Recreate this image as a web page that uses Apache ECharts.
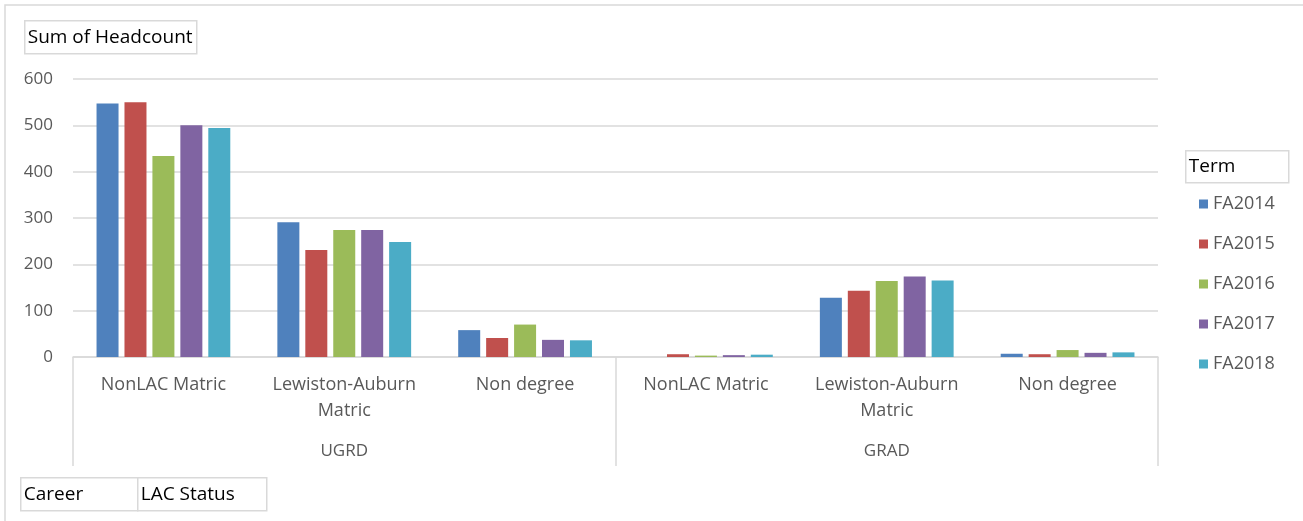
<!DOCTYPE html>
<html>
<head>
<meta charset="utf-8">
<script src="https://cdn.jsdelivr.net/npm/echarts@6/dist/echarts.min.js"></script>
<style>
  html, body { margin: 0; padding: 0; background: #fff; }
  #chart { width: 1303px; height: 521px; }
</style>
</head>
<body>
<div id="chart"></div>
<script>
const statusLabels = ['NonLAC Matric', 'Lewiston-Auburn\nMatric', 'Non degree', 'NonLAC Matric', 'Lewiston-Auburn\nMatric', 'Non degree'];
const careers = ['UGRD', 'GRAD'];
const terms = ['FA2014', 'FA2015', 'FA2016', 'FA2017', 'FA2018'];
const fa2014 = [547, 291, 58, 0, 128, 7];
const fa2015 = [550, 231, 41, 6, 143, 6];
const fa2016 = [434, 274, 70, 3, 164, 15];
const fa2017 = [500, 274, 37, 4, 174, 9];
const fa2018 = [494, 248, 36, 5, 165, 10];
const yTicks = [0, 100, 200, 300, 400, 500, 600];

const colors = ['#4f81bd', '#c0504d', '#9bbb59', '#8064a2', '#4bacc6'];
const font = 'Open Sans';
const values = [fa2014, fa2015, fa2016, fa2017, fa2018];

let myChart = echarts.init(document.getElementById('chart'));

// field-button style boxes (pivot chart buttons)
const box = (text, x, y, w, h) => ({
  type: 'group',
  left: x,
  top: y,
  silent: true,
  children: [{
    type: 'rect',
    shape: { x: 0, y: 0, width: w, height: h },
    style: { fill: '#fff', stroke: '#d9d9d9', lineWidth: 1.5 }
  }, {
    type: 'text',
    x: 3,
    y: h / 2,
    style: { text: text, fill: '#000', font: '19px "Open Sans"', verticalAlign: 'middle' }
  }]
});

myChart.setOption({
  color: colors,
  animation: false,
  legend: {
    data: terms,
    orient: 'vertical',
    left: 1194,
    top: 190,
    itemWidth: 9,
    itemHeight: 9,
    itemGap: 22,
    icon: 'rect',
    textStyle: { color: '#595959', fontSize: 18, fontFamily: font }
  },
  graphic: [{
    type: 'polyline',
    shape: { points: [[5, 521], [5, 5], [1303, 5]] },
    style: { stroke: '#d9d9d9', fill: null, lineWidth: 1.5 },
    silent: true
  },
    box('Sum of Headcount', 24, 20, 172, 33),
    box('Term', 1185, 150, 103, 32),
    box('Career', 20, 477, 117, 33),
    box('LAC Status', 137, 477, 129, 33)
  ],
  grid: { left: 73, right: 145, top: 79, bottom: 164, containLabel: false },
  xAxis: [{
    type: 'category',
    data: statusLabels,
    position: 'bottom',
    axisLine: { show: true, lineStyle: { color: '#d9d9d9', width: 1.5 } },
    axisTick: { show: false },
    axisLabel: { color: '#595959', fontSize: 18, fontFamily: font, margin: 15, lineHeight: 26, interval: 0 }
  }, {
    type: 'category',
    data: careers,
    position: 'bottom',
    axisLine: { show: false },
    axisTick: { show: true, length: 109, alignWithLabel: false, lineStyle: { color: '#d9d9d9', width: 1.5 } },
    axisLabel: { color: '#595959', fontSize: 17, fontFamily: font, margin: 86 }
  }],
  yAxis: {
    type: 'value',
    min: yTicks[0],
    max: yTicks[yTicks.length - 1],
    interval: 100,
    axisLine: { show: false },
    axisTick: { show: false },
    splitLine: { lineStyle: { color: '#d9d9d9', width: 1.5 } },
    axisLabel: { color: '#595959', fontSize: 17, fontFamily: font, margin: 20 }
  },
  series: terms.map((t, i) => ({
    name: t,
    type: 'bar',
    xAxisIndex: 0,
    barWidth: 22,
    barGap: '27%',
    data: values[i],
    itemStyle: { color: colors[i] }
  }))
});
window.addEventListener('resize', function () {
  myChart.resize();
});
</script>
</body>
</html>
